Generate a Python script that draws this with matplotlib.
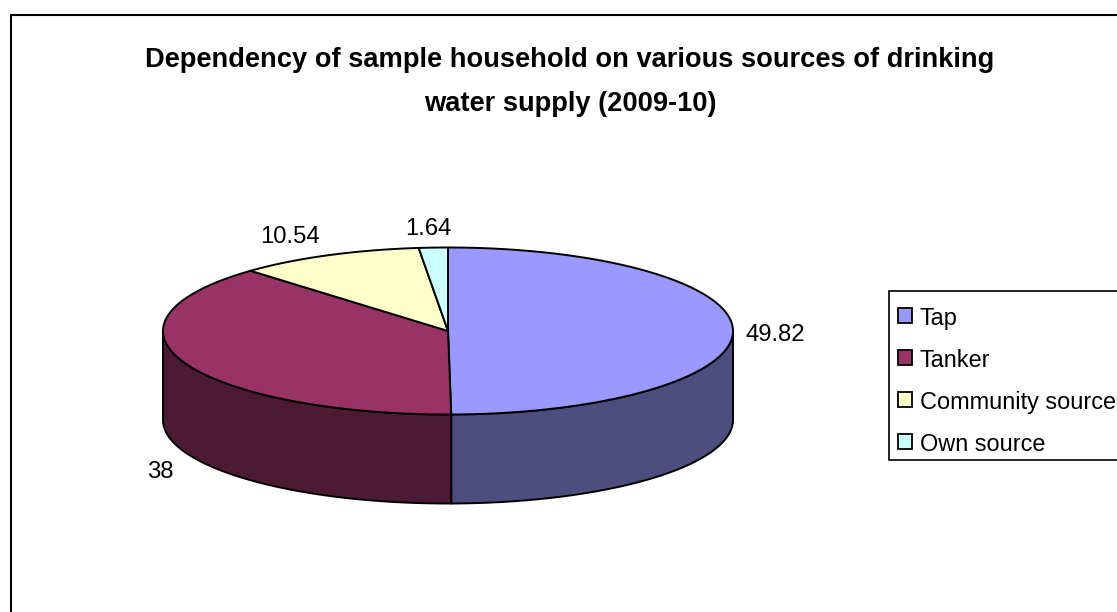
import numpy as np
import matplotlib
matplotlib.use("Agg")
import matplotlib.pyplot as plt
from matplotlib.patches import Polygon, Rectangle

plt.rcParams['font.family'] = ['Liberation Sans', 'DejaVu Sans']

# Survey shares, in percent
sources = ["Tap", "Tanker", "Community source", "Own source"]
shares = [49.82, 38, 10.54, 1.64]
share_labels = ["49.82", "38", "10.54", "1.64"]
top_colors = ["#9999FF", "#993366", "#FFFFCC", "#CCFFFF"]
wall_colors = ["#4D4D80", "#4D1A33", "#80801A", "#668080"]
title_lines = ["Dependency of sample household on various sources of drinking",
               "water supply (2009-10)"]

# Pie geometry on the page, in pixels
CX, CY, RX, RY, DEPTH = 448.0, 331.0, 285.0, 83.5, 89.0
EDGE = "#000000"
LW = 1.4
LABEL_SIZE = 17.2
LEGEND_SIZE = 16.9
TITLE_SIZE = 19.65

fig = plt.figure(figsize=(11.17, 6.12), dpi=100)
ax = fig.add_axes([0, 0, 1, 1])
ax.set_xlim(0, 1117)
ax.set_ylim(612, 0)
ax.axis("off")

# Chart area border: only the top and left edges fall inside the page
ax.plot([10.5, 10.5, 1117], [612, 14.5, 14.5], color="#000000", lw=1.5,
        solid_joinstyle="miter", zorder=1)


def rim(a0, a1, dy=0.0, n=240):
    """Points on the ellipse; angles are clockwise from twelve o'clock, in radians."""
    t = np.linspace(a0, a1, n)
    return np.column_stack([CX + RX * np.sin(t), CY - RY * np.cos(t) + dy])


bounds = np.concatenate([[0.0], np.cumsum(shares)]) / np.sum(shares) * 2 * np.pi

# Side walls: only the part of each slice facing the viewer (right, round the front, to left)
for a0, a1, wall in zip(bounds[:-1], bounds[1:], wall_colors):
    lo, hi = max(a0, np.pi / 2), min(a1, 3 * np.pi / 2)
    if hi <= lo:
        continue
    upper = rim(lo, hi)
    lower = rim(hi, lo, DEPTH)
    ax.add_patch(Polygon(np.vstack([upper, lower]), closed=True, facecolor=wall,
                         edgecolor=EDGE, lw=LW, joinstyle="round", zorder=2))

# Top faces
for a0, a1, top in zip(bounds[:-1], bounds[1:], top_colors):
    pts = np.vstack([[[CX, CY]], rim(a0, a1)])
    ax.add_patch(Polygon(pts, closed=True, facecolor=top, edgecolor=EDGE, lw=LW,
                         joinstyle="round", zorder=3))

# Value labels beside their slices
label_xy = [(775, 335), (160, 472), (290, 237), (428, 229)]
for text, (x, y) in zip(share_labels, label_xy):
    ax.text(x, y, text, fontsize=LABEL_SIZE, ha="center", va="center", color="#000000", zorder=4)

# Title
for line, y in zip(title_lines, [60, 104]):
    ax.text(570, y, line, fontsize=TITLE_SIZE, fontweight="bold", ha="center", va="center",
            color="#000000", zorder=4)

# Legend box runs off the right edge of the page
ax.plot([1117, 889, 889, 1117], [291, 291, 460, 460], color="#000000", lw=1.2,
        solid_joinstyle="miter", zorder=4)
for i, (name, color) in enumerate(zip(sources, top_colors)):
    yc = 315 + i * 42.2
    ax.add_patch(Rectangle((898, yc - 7.5), 14, 15, facecolor=color, edgecolor=EDGE, lw=1.3, zorder=4))
    ax.text(920, yc + 3, name, fontsize=LEGEND_SIZE, ha="left", va="center", color="#000000", zorder=4)

fig.savefig("out.png", dpi=100)
